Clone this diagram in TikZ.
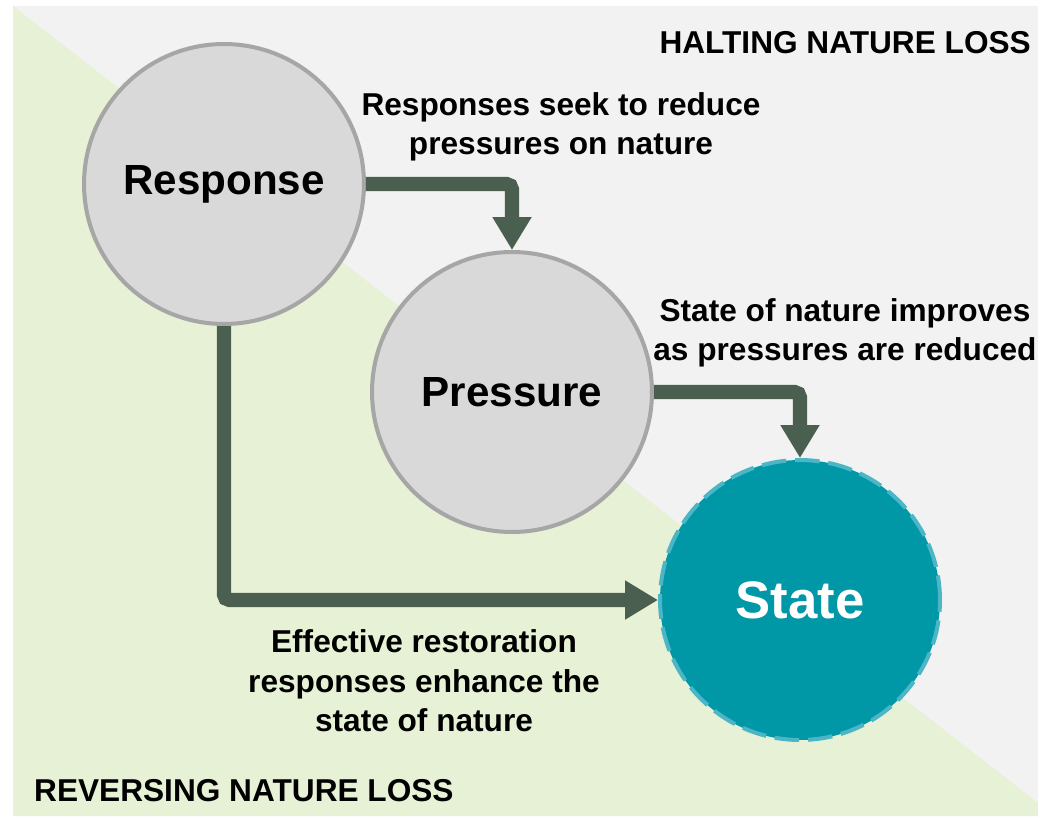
\documentclass[tikz,border=0pt]{standalone}
\usepackage{fontspec}
\setmainfont{Liberation Sans}
\usetikzlibrary{arrows.meta, positioning}

\definecolor{halt}{HTML}{F2F2F2}
\definecolor{rev}{HTML}{E7F1D5}
\definecolor{flowc}{HTML}{4A5F50}
\definecolor{bubble}{HTML}{D9D9D9}
\definecolor{rim}{HTML}{A6A6A6}
\definecolor{teal}{HTML}{0097A7}
\definecolor{tealrim}{HTML}{4DB6C6}

\begin{document}
\begin{tikzpicture}[
    x=0.02cm, y=-0.02cm,
    font=\bfseries\fontsize{18}{22.5}\selectfont,
    bubble/.style = {circle, draw=rim, line width=2.3pt, fill=bubble,
                     minimum size=5.6cm, inner sep=0pt, font=\bfseries\fontsize{24}{28}\selectfont},
    goal/.style   = {circle, draw=tealrim, line width=2.3pt, fill=teal, dash pattern=on 14pt off 5pt,
                     minimum size=5.6cm, inner sep=0pt, text=white, font=\bfseries\fontsize{30}{34}\selectfont},
    flow/.style   = {-{Triangle[width=0.74cm, length=0.66cm]}, draw=flowc, line width=8pt,
                     rounded corners=3pt},
    lbl/.style    = {align=center},
    zone/.style   = {font=\bfseries\fontsize{18}{22}\selectfont}
]
\useasboundingbox (0,0) rectangle (1038,816);

%% -- background zones --
\fill[halt] (13,6) rectangle (1038,816);
\fill[rev] (13,6) -- (1038,803) -- (1038,816) -- (13,816) -- cycle;

%% -- circles --
\node[bubble] (resp) at (224,184) {Response};
\node[bubble] (pres) at (512,392) {Pressure};
\node[goal]   (state) at (800,600) {State};

%% -- flows --
\draw[flow] (resp.east) -| (pres.north);
\draw[flow] (pres.east) -| (state.north);
\draw[flow] (resp.south) |- (state.west);

%% -- labels --
\node[lbl] (l1) at (561,127) {Responses seek to reduce\\pressures on nature};
\node[lbl] (l2) at (845,333) {State of nature improves\\as pressures are reduced};
\node[lbl] (l3) at (424,681) {Effective restoration\\responses enhance the\\state of nature};
\node[zone, anchor=east] (halting) at (1037,43) {HALTING NATURE LOSS};
\node[zone, anchor=west] (reversing) at (28,791) {REVERSING NATURE LOSS};

\end{tikzpicture}
\end{document}
